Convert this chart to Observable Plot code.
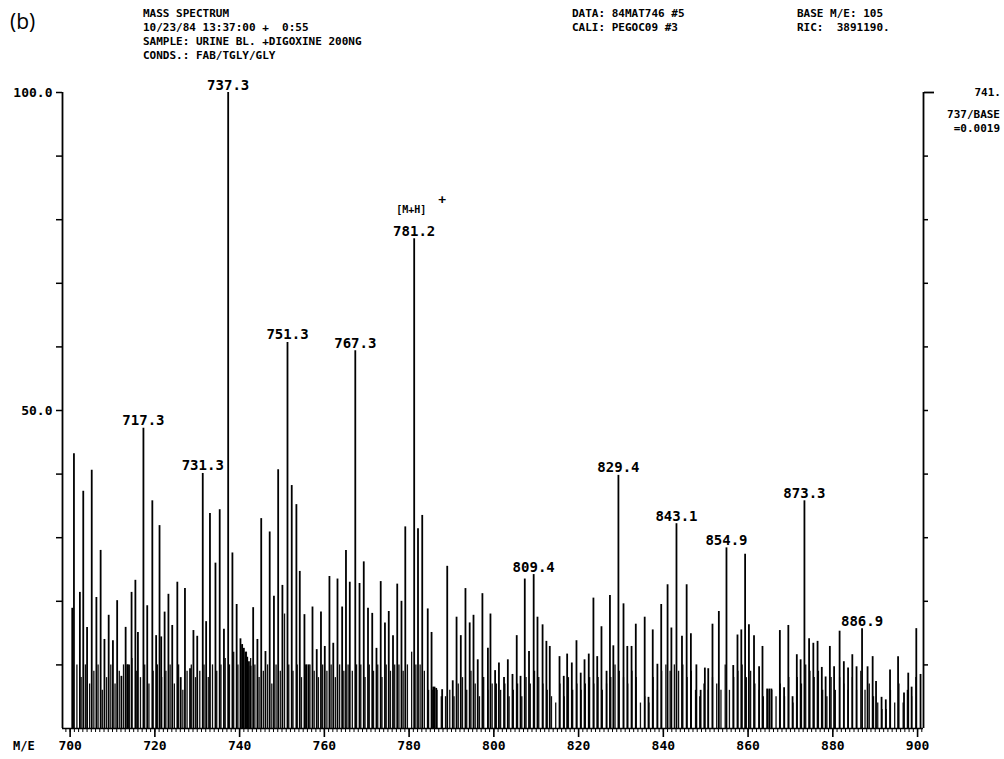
<!DOCTYPE html>
<html><head><meta charset="utf-8">
<script src="https://cdn.jsdelivr.net/npm/d3@7"></script>
<script src="https://cdn.jsdelivr.net/npm/@observablehq/plot@0.6"></script>
<style>
body{margin:0;background:#fff;}
svg{display:block}
</style></head><body><div id="chart"></div>
<script>
// Major peaks (m/z, relative intensity %)
const majorMz = [700.5,700.9,702.3,703.1,704.0,705.1,706.2,707.2,708.1,709.1,710.1,711.1,712.1,713.1,713.5,713.9,714.5,715.4,716.0,717.3,718.2,719.4,720.3,721.1,721.5,722.3,723.2,724.1,725.3,726.1,727.1,728.3,729.1,730.0,731.3,732.1,733.0,734.3,735.3,736.3,737.3,738.3,739.3,740.2,740.6,741.0,741.4,741.8,742.2,742.6,743.2,744.2,745.1,746.1,747.1,748.1,749.1,750.1,751.3,752.3,753.4,754.2,755.3,755.8,756.3,757.2,758.2,759.2,760.1,761.2,762.1,763.1,764.2,765.1,766.0,767.3,768.3,769.3,770.3,771.3,772.3,773.3,774.3,775.2,776.2,777.2,778.2,779.1,781.2,782.1,783.1,784.4,785.3,785.7,786.0,786.4,787.8,789.0,790.3,791.2,792.2,793.3,794.3,795.2,796.2,797.3,798.6,799.2,800.3,801.2,802.4,803.3,804.4,805.4,806.3,807.3,808.3,809.4,810.3,811.5,812.4,813.2,815.5,816.5,817.3,818.4,819.5,820.5,821.4,822.4,823.5,824.4,825.4,826.6,827.4,828.2,829.4,830.6,831.5,832.5,833.5,835.6,836.5,837.5,838.6,839.5,841.0,841.9,843.1,844.4,845.5,846.5,847.8,848.8,849.8,850.6,851.6,853.1,854.9,856.5,857.5,858.4,859.3,860.2,861.4,862.6,863.4,864.5,865.0,865.5,867.5,868.5,869.5,870.5,871.5,872.4,873.3,874.4,875.4,876.4,877.4,878.3,879.3,880.3,881.6,882.6,883.6,884.6,885.6,886.9,888.2,889.4,890.2,891.5,892.5,893.5,895.4,896.8,897.8,898.6,899.7,900.7];
const majorI = [18.9,43.2,21.4,37.3,15.9,40.6,20.6,28,14,17.8,13.8,20.1,8.2,15.9,10,10,21.4,23.3,15.1,47.2,19.3,35.8,14.6,31.9,14.4,18.3,21.1,16.2,23.0,8.0,22.0,9.4,15.4,14.5,40.1,16.8,33.8,26.0,34.4,15.6,100,27.6,19.5,14.1,13.2,12.6,12.0,11.2,10.5,9.8,19.0,14.0,33.0,12.1,30.9,20.8,40.7,22.5,60.7,38.2,35.2,24.7,17.9,10,10,19.1,12.4,18.3,12.9,23.9,13.4,23.5,19.1,28,23.0,59.4,22.8,26.2,18.9,18.1,12.6,23.1,16.6,18.4,14.6,22.7,20.0,31.7,77.0,31.4,33.5,18.8,15.1,6.5,6.5,6.3,6.1,25.5,7.5,17.5,14.6,22.0,16.6,17.8,10.8,21.2,12.6,18.0,9.1,10.3,8.0,10.8,8.5,14.6,8.2,23.5,12.1,24.2,17.5,16.3,13.7,12.9,11.3,8.2,11.7,10.3,13.8,8.7,10.8,11.7,20.5,11.3,16.0,9.0,20.9,13.0,39.8,19.6,12.9,12.9,16.4,17.5,4.9,15.5,10.1,19.5,22.6,15.8,32.2,14.5,22.6,14.9,10.0,6.0,9.5,9.4,16.4,18.4,28.4,9.9,14.7,15.5,27.4,16.3,14.6,9.7,12.9,6.2,6.2,6.2,15.4,6.4,16.2,5.0,11.6,10.8,35.8,14.1,13.4,13.7,9.6,8.1,12.9,9.7,15.3,10.5,9.5,11.6,9.7,15.7,9.7,11.3,7.4,4.9,4.5,9.2,11.3,5.6,8.7,6.5,15.7,8.5];

// Minor (background) peaks
const minorMz = [700.6,701.6,702.6,703.6,704.6,705.6,706.6,707.6,708.6,709.6,710.6,711.6,712.6,713.6,714.6,715.6,716.6,717.6,718.6,719.6,720.6,721.6,722.6,723.6,724.6,725.6,726.6,727.6,728.6,729.6,730.6,731.6,732.6,733.6,734.6,735.6,736.6,737.6,738.6,739.6,740.6,741.6,742.6,743.6,744.6,745.6,746.6,747.6,748.6,749.6,750.6,751.6,752.6,753.6,754.6,755.6,756.6,757.6,758.6,759.6,760.6,761.6,762.6,763.6,764.6,765.6,766.6,767.6,768.6,769.6,770.6,771.6,772.6,773.6,774.6,775.6,776.6,777.6,778.6,779.6,780.6,781.6,782.6,783.6,784.6,785.6,786.6,787.6,788.6,789.6,790.6,791.6,792.6,793.6,794.6,795.6,796.6,797.6,798.6,799.6,800.6,801.6,802.6,803.6,804.6,805.6,806.6,807.6,808.6,809.6,810.6,811.6,812.6,813.6,814.6,815.6,816.6,817.6,818.6,819.6,820.6,821.6,822.6,823.6,824.6,825.6,826.6,827.6,828.6,829.6,830.6,831.6,832.6,833.6,834.6,835.6,836.6,837.6,838.6,839.6,840.6,841.6,842.6,843.6,844.6,845.6,846.6,847.6,848.6,849.6,850.6,851.6,852.6,853.6,854.6,855.6,856.6,857.6,858.6,859.6,860.6,861.6,862.6,863.6,864.6,865.6,866.6,867.6,868.6,869.6,870.6,871.6,872.6,873.6,874.6,875.6,876.6,877.6,878.6,879.6,880.6,881.6,882.6,883.6,884.6,885.6,886.6,887.6,888.6,889.6,890.6,891.6,892.6,893.6,894.6,895.6,896.6,897.6,898.6,899.6];
const minorI = [9,10,8,10,7,9,10,6,8,10, 7,9,10,10,11,9,8,10,7,9, 10,8,9,10,7,10,6,9,10,8, 9,10,8,10,9,10,11,10,12,10, 13,12,11,10,8,9,10,7,10,9, 18,10,9,10,8,10,10,9,8,10, 9,10,8,10,9,10,9,10,10,8, 10,9,10,8,10,9,10,10,9,10, 12,10,10,9,6,6,6,5,5,6, 5,7,8,6,9,7,5,8,6,7, 7,6,7,5,6,7,5,8,7,9, 8,7,6,5,4,7,5,8,6,7, 6,7,8,7,8,6,7,8,10,9, 8,7,9,8,4,5,4,8,6,9, 10,9,10,9,10,8,9,6,5,7, 6,8,7,6,10,6,8,9,10,8, 9,7,6,5,6,6,5,7,5,8, 4,8,7,10,9,8,9,6,5,8, 6,8,7,6,8,6,9,6,7,5, 4,3,3,6,4,7,4,6,5,8];

// Labelled peaks
const labelMz = [717.3,731.3,737.3,751.3,767.3,781.2,809.4,829.4,843.1,854.9,873.3,886.9];
const labelText = ["717.3","731.3","737.3","751.3","767.3","781.2","809.4","829.4","843.1","854.9","873.3","886.9"];

// Axis ticks
const xTicks = [700,720,740,760,780,800,820,840,860,880,900];
const yTicks = [10,20,30,40,50,60,70,80,90,100];
const xDomain = [698.2, 901.4];

const peaks = majorMz.map((m, k) => ({mz: m, v: majorI[k]}));
const minors = minorMz.map((m, k) => ({mz: m, v: minorI[k]}));
const labels = labelMz.map((m, k) => ({mz: m, v: majorI[majorMz.indexOf(m)], t: labelText[k]}));
const mh = labels.filter(d => d.t === "781.2");
const minorTicks = d3.range(699, 902, 1);

const mono = "DejaVu Sans Mono";

const svg = Plot.plot({
  width: 1004,
  height: 759,
  marginLeft: 62,
  marginRight: 81,
  marginTop: 92,
  marginBottom: 31,
  x: {domain: xDomain},
  y: {domain: [0, 100]},
  style: {fontFamily: mono, fontWeight: "bold", fontSize: "13px", color: "#000", background: "#fff"},
  marks: [
    Plot.ruleX(minors, {x: "mz", y1: 0, y2: "v", stroke: "#111", strokeWidth: 1.3}),
    Plot.ruleX(peaks, {x: "mz", y1: 0, y2: "v", stroke: "#000", strokeWidth: 1.8}),
    Plot.ruleY([0], {stroke: "#000", strokeWidth: 1.6}),
    Plot.ruleX([xDomain[0]], {y1: 0, y2: 100, stroke: "#000", strokeWidth: 1.8}),
    Plot.ruleX([xDomain[1]], {y1: 0, y2: 100, stroke: "#000", strokeWidth: 1.8}),
    Plot.axisY({ticks: yTicks, anchor: "left", tickSize: 6, tickPadding: 4, strokeWidth: 1.5,
      tickFormat: d => d === 100 ? "100.0" : d === 50 ? "50.0" : "", label: null, fontSize: 13}),
    Plot.axisY({ticks: yTicks.filter(d => d < 100), anchor: "right", tickSize: 4, strokeWidth: 1.5, tickFormat: () => "", label: null}),
    Plot.axisY({ticks: [100], anchor: "right", tickSize: 10, strokeWidth: 1.8, tickFormat: () => "", label: null}),
    Plot.axisX({ticks: minorTicks, anchor: "bottom", tickSize: 4, strokeWidth: 1, tickFormat: () => "", label: null}),
    Plot.axisX({ticks: xTicks, anchor: "bottom", tickSize: 9, tickPadding: 3, strokeWidth: 1.6,
      tickFormat: d => String(d), label: null, fontSize: 13}),
    Plot.text(labels, {x: "mz", y: "v", text: "t", dy: -3, lineAnchor: "bottom", textAnchor: "middle",
      fontSize: 14, fontFamily: mono, fontWeight: "bold", fill: "#000"}),
    Plot.text(mh, {x: "mz", y: "v", text: () => "[M+H]", dy: -26, dx: -3, lineAnchor: "bottom", textAnchor: "middle",
      fontSize: 10, fontFamily: mono, fontWeight: "bold", fill: "#000"}),
    Plot.text(mh, {x: "mz", y: "v", text: () => "+", dy: -35, dx: 28, lineAnchor: "bottom", textAnchor: "middle",
      fontSize: 13, fontFamily: mono, fontWeight: "bold", fill: "#000"})
  ]
});

document.getElementById("chart").appendChild(svg);

// Header texts (instrument printout)
const s = d3.select(svg);
const hdr = s.append("g").attr("font-family", mono).attr("font-weight", "bold").attr("font-size", 11)
  .attr("fill", "#000").attr("text-anchor", "start");
const leftLines = ["MASS SPECTRUM", "10/23/84 13:37:00 +  0:55", "SAMPLE: URINE BL. +DIGOXINE 200NG", "CONDS.: FAB/TGLY/GLY"];
leftLines.forEach((t, k) => hdr.append("text").attr("x", 143).attr("y", 17 + k * 14).attr("text-anchor", "start").style("white-space", "pre").text(t));
const midLines = ["DATA: 84MAT746 #5", "CALI: PEGOC09 #3"];
midLines.forEach((t, k) => hdr.append("text").attr("x", 572).attr("y", 17 + k * 14).attr("text-anchor", "start").style("white-space", "pre").text(t));
const rightLines = ["BASE M/E: 105", "RIC:  3891190."];
rightLines.forEach((t, k) => hdr.append("text").attr("x", 797).attr("y", 17 + k * 14).attr("text-anchor", "start").style("white-space", "pre").text(t));
hdr.append("text").attr("x", 1001).attr("y", 96).attr("text-anchor", "end").text("741.");
hdr.append("text").attr("x", 1000).attr("y", 118).attr("text-anchor", "end").text("737/BASE");
hdr.append("text").attr("x", 1000).attr("y", 132).attr("text-anchor", "end").text("=0.0019");
s.append("text").attr("x", 10).attr("y", 29).attr("text-anchor", "start").attr("font-family", "Open Sans, Noto Sans, sans-serif")
  .attr("font-weight", "normal").attr("font-size", 21).attr("fill", "#000").text("(b)");
s.append("text").attr("x", 13).attr("y", 750).attr("text-anchor", "start").attr("font-family", mono).attr("font-weight", "bold")
  .attr("font-size", 12).attr("fill", "#000").text("M/E");
</script>
</body></html>
